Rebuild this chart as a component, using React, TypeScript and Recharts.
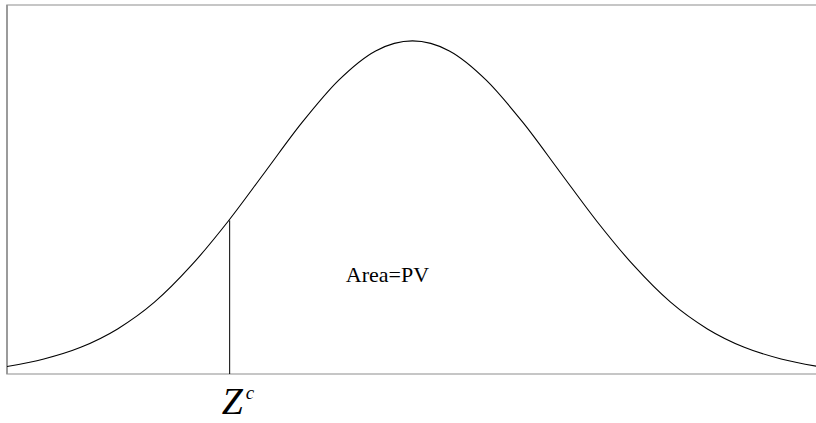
import { LineChart, Line, XAxis, YAxis, ReferenceLine, ReferenceDot, ReferenceArea } from 'recharts'

// standardised z positions across the frame
const zValues = [
  -2.75, -2.5, -2.25, -2, -1.75, -1.5, -1.25, -1, -0.75, -0.5, -0.25, 0,
  0.25, 0.5, 0.75, 1, 1.25, 1.5, 1.75, 2, 2.25, 2.5, 2.75,
]
// curve height (density units)
const density = [
  0.009, 0.018, 0.032, 0.054, 0.086, 0.13, 0.183, 0.242, 0.301, 0.352, 0.387, 0.399,
  0.387, 0.352, 0.301, 0.242, 0.183, 0.13, 0.086, 0.054, 0.032, 0.018, 0.009,
]
const zCritical = -1.24
const zCriticalHeight = 0.184
const yTop = 0.442
const areaLabel = 'Area=PV'
const areaLabelAt = { x: -0.17, y: 0.11 }

const data = zValues.map((z, i) => ({ z, pdf: density[i] }))

const serif = '"Liberation Serif", "Times New Roman", serif'

function AreaText({ viewBox }: any) {
  const cx = viewBox.x + viewBox.width / 2
  const cy = viewBox.y + viewBox.height / 2
  return (
    <text x={cx} y={cy} textAnchor="middle" style={{ fontFamily: serif, fontSize: 22, fill: '#000' }}>
      {areaLabel}
    </text>
  )
}

function ZText({ viewBox }: any) {
  const cx = viewBox.x + viewBox.width / 2
  const cy = viewBox.y + viewBox.height / 2
  return (
    <text x={cx - 8} y={cy + 40} style={{ fontFamily: serif, fontStyle: 'italic', fill: '#000' }}>
      <tspan style={{ fontSize: 38 }}>Z</tspan>
      <tspan style={{ fontSize: 19 }} dx={3} dy={-15}>c</tspan>
    </text>
  )
}

export default function App() {
  return (
    <div style={{ position: 'absolute', left: 0, top: 0, width: 816, height: 423, overflow: 'hidden', background: '#fff' }}>
      <LineChart width={818} height={423} data={data} margin={{ top: 5, right: 0, bottom: 48, left: 6 }}>
        <XAxis
          dataKey="z"
          type="number"
          domain={[-2.75, 2.75]}
          allowDataOverflow
          tick={false}
          tickLine={false}
          height={1}
          axisLine={false}
        />
        <YAxis
          type="number"
          domain={[0, yTop]}
          allowDataOverflow
          tick={false}
          tickLine={false}
          width={1}
          axisLine={false}
        />
        {/* frame: open on the right side */}
        <ReferenceArea
          x1={-2.75}
          x2={3}
          y1={0}
          y2={yTop}
          ifOverflow="visible"
          fill="none"
          fillOpacity={0}
          stroke="#b4b4b4"
          strokeWidth={1.5}
          strokeOpacity={1}
        />
        <ReferenceLine x={-2.75} stroke="#8c8c8c" strokeWidth={1.5} />
        <Line
          type="monotone"
          dataKey="pdf"
          stroke="#000"
          strokeWidth={1.1}
          dot={false}
          isAnimationActive={false}
        />
        <ReferenceLine
          segment={[
            { x: zCritical, y: 0 },
            { x: zCritical, y: zCriticalHeight },
          ]}
          stroke="#000"
          strokeWidth={1}
        />
        <ReferenceDot x={zCritical} y={0} r={1} fill="none" stroke="none" label={<ZText />} />
        <ReferenceDot
          x={areaLabelAt.x}
          y={areaLabelAt.y}
          r={1}
          fill="none"
          stroke="none"
          label={<AreaText />}
        />
      </LineChart>
    </div>
  )
}
